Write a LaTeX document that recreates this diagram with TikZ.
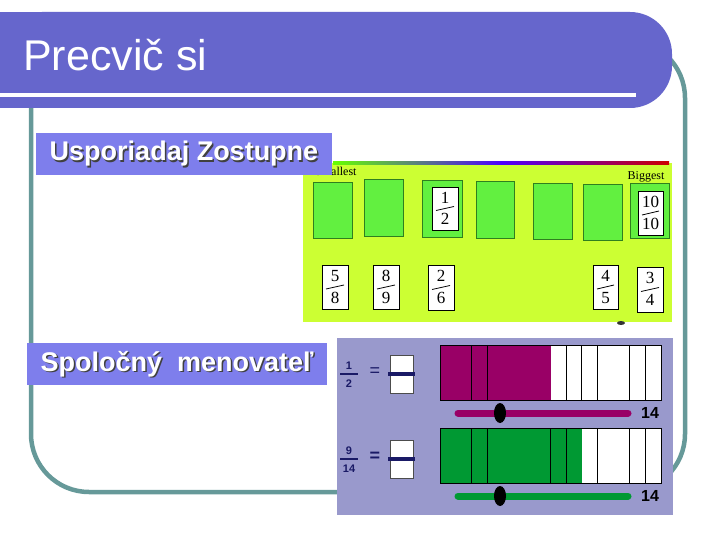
\documentclass[tikz,border=0pt]{standalone}
\usepackage{fontspec}
\setmainfont{Liberation Sans}
\newfontfamily\cardfont{Liberation Serif}
\usetikzlibrary{positioning}
\definecolor{colBanner}{HTML}{6666CC}
\definecolor{colFrame}{HTML}{669999}
\definecolor{colLabel}{HTML}{7E7EEC}
\definecolor{colLime}{HTML}{CCFF33}
\definecolor{colSlot}{HTML}{62F040}
\definecolor{colSlotEdge}{HTML}{2F7F1F}
\definecolor{colLav}{HTML}{9999CC}
\definecolor{colPlum}{HTML}{990066}
\definecolor{colGreen}{HTML}{009933}
\definecolor{colNavy}{HTML}{1A1A66}
\tikzset{
  % slide frame and banner
  frame/.style={draw=colFrame, line width=4.5pt},
  banner/.style={fill=colBanner},
  % section labels
  labelbox/.style={fill=colLabel, inner sep=0pt,
    minimum height=42pt},
  labeltext/.style={font=\fontsize{27}{30}\selectfont\bfseries,
    text=white, inner sep=0pt},
  labelshadow/.style={labeltext, text=black!75},
  % ordering picture
  slot/.style={draw=colSlotEdge, fill=colSlot, line width=1pt},
  card/.style={draw=black, fill=white, line width=0.6pt},
  cardnum/.style={font=\cardfont\fontsize{17}{17}\selectfont, inner sep=0pt},
  cardtag/.style={font=\cardfont\fontsize{12}{12}\selectfont, inner sep=0pt},
  % common denominator picture
  bar/.style={draw=black, line width=0.8pt},
  slider/.style={line width=7pt, line cap=round},
  fracnum/.style={font=\fontsize{11}{11}\selectfont\bfseries,
    text=colNavy, inner sep=0pt},
  count/.style={font=\fontsize{16}{16}\selectfont\bfseries, inner sep=0pt},
}
% card with a fraction: name, x1, y1, x2, y2, numerator, denominator
\newcommand{\fcard}[7]{%
  \draw[card] (#2,#3) rectangle (#4,#5);
  \node[cardnum] (#1n) at ({(#2+#4)/2},{#3+0.25*(#5-#3)}) {#6};
  \node[cardnum] (#1d) at ({(#2+#4)/2},{#3+0.74*(#5-#3)}) {#7};
  \draw[line width=0.8pt] ({#2+4},{(#3+#5)/2+2}) -- ({#4-4},{(#3+#5)/2-2});
}

\begin{document}
\begin{tikzpicture}[x=1pt, y=-1pt]
\useasboundingbox[fill=white] (0,0) rectangle (720,540);

%% slide frame
\draw[frame, rounded corners=58pt] (31,40) rectangle (685,492);

%% title banner
\fill[banner, rounded corners=42pt] (0,12) rectangle (672,108);
\fill[banner] (0,12) rectangle (100,108);
\draw[white, line width=3.5pt] (0,95) -- (636,95);
\node[anchor=west, text=white, inner sep=0pt,
      font=\fontsize{43}{43}\selectfont] (title) at (23,55) {Precvič si};

%% ordering picture
\fill[colLime] (303,163) rectangle (672,322);
\shade[left color=green!60!yellow, right color=red!80!black,
       middle color=blue!70!magenta] (333,161.5) rectangle (669,164.5);
\node[cardtag, anchor=west] (smallest) at (315,171) {Smallest};
\node[cardtag] (biggest) at (646,177) {Biggest};

\draw[slot] (313,183) rectangle (352,238);
\draw[slot] (364,180) rectangle (403,236);
\draw[slot] (422,181) rectangle (462,237);
\draw[slot] (476,182) rectangle (514,238);
\draw[slot] (533,184) rectangle (572,239);
\draw[slot] (583,185) rectangle (622,240);
\draw[slot] (630,184) rectangle (669,238);

\fcard{half}{432}{187}{458}{230}{1}{2}
\fcard{whole}{638}{191}{663}{235}{10}{10}
\fcard{fiveeighths}{322}{265}{348}{309}{5}{8}
\fcard{eightninths}{373}{265}{399}{309}{8}{9}
\fcard{twosixths}{428}{265}{454}{310}{2}{6}
\fcard{fourfifths}{593}{265}{618}{309}{4}{5}
\fcard{threequarters}{637}{267}{663}{312}{3}{4}
\fill[black!80] (621,323) ellipse [x radius=4, y radius=2];

\node[labelbox, minimum width=296pt] (sortlbl) at (184,154) {};
\node[labelshadow] at ([shift={(1.5,1.5)}]sortlbl) {Usporiadaj Zostupne};
\node[labeltext] (sorttxt) at (sortlbl) {Usporiadaj Zostupne};

%% common denominator picture
\fill[colLav] (337,338) rectangle (673,515);

% first row: 1/2
\node[fracnum] (hnum) at (349,366) {1};
\node[fracnum] (hden) at (349,384) {2};
\draw[colNavy, line width=1.2pt] (340,374) -- (358,374);
\node[font=\fontsize{18}{18}\selectfont, text=colNavy] (heq) at (375,372) {=};
\draw[black!70, fill=white, line width=0.6pt] (390,355) rectangle (413,393);
\draw[colNavy, line width=3.5pt] (388,374) -- (415,374);

\fill[white] (440,345) rectangle (661,400);
\fill[colPlum] (440,345) rectangle (551,400);
\foreach \x in {471.7,487.3,566.7,581.7,597.7,629.3,645}
  \draw[line width=0.8pt] (\x,345) -- (\x,400);
\draw[bar] (440,345) rectangle (661,400);
\draw[slider, colPlum] (458,413) -- (628,413);
\fill[black] (500,413) ellipse [x radius=6, y radius=10];
\node[count] (hcount) at (650,413) {14};

% second row: 9/14
\node[fracnum] (nnum) at (349,451) {9};
\node[fracnum] (nden) at (349,469) {14};
\draw[colNavy, line width=1.2pt] (340,459) -- (358,459);
\node[font=\fontsize{18}{18}\selectfont\bfseries, text=colNavy] (neq) at (375,457) {=};
\draw[black!70, fill=white, line width=0.6pt] (390,440) rectangle (413,478);
\draw[colNavy, line width=3.5pt] (388,459) -- (415,459);

\fill[white] (440,428) rectangle (661,483);
\fill[colGreen] (440,428) rectangle (581.7,483);
\foreach \x in {471.7,487.3,550.7,566.7,597.7,629.3,645}
  \draw[line width=0.8pt] (\x,428) -- (\x,483);
\draw[bar] (440,428) rectangle (661,483);
\draw[slider, colGreen] (458,496) -- (628,496);
\fill[black] (500,496) ellipse [x radius=6, y radius=10];
\node[count] (ncount) at (650,496) {14};

\node[labelbox, minimum width=300pt] (denomlbl) at (177,364) {};
\node[labelshadow] at ([shift={(1.5,1.5)}]denomlbl) {Spoločný~~menovateľ};
\node[labeltext] (denomtxt) at (denomlbl) {Spoločný~~menovateľ};

\end{tikzpicture}
\end{document}
